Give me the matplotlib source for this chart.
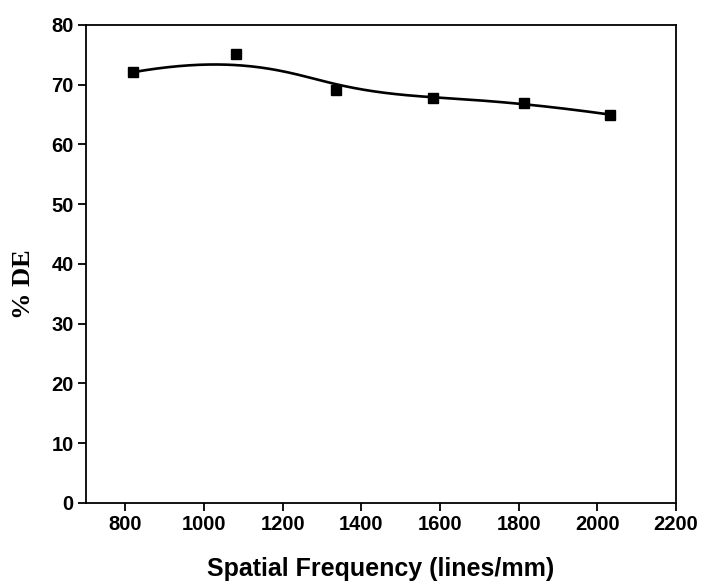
import numpy as np
import matplotlib
matplotlib.use('Agg')
import matplotlib.pyplot as plt

# data
freq = [820, 1081, 1336, 1581, 1813, 2033]      # lines/mm
de = [72.1, 75.1, 69.2, 67.8, 67.0, 65.0]       # % DE

xticks = [800, 1000, 1200, 1400, 1600, 1800, 2000, 2200]
yticks = [0, 10, 20, 30, 40, 50, 60, 70, 80]


def bspline(px, py, n=300, k=3):
    # clamped uniform B-spline using the data points as control points
    m = len(px)
    knots = np.concatenate([np.zeros(k), np.arange(m - k + 1), np.full(k, m - k)]).astype(float)
    t = np.linspace(0, m - k, n)
    t[-1] -= 1e-9

    def basis(i, p, t):
        if p == 0:
            return ((knots[i] <= t) & (t < knots[i + 1])).astype(float)
        a = 0.0
        b = 0.0
        if knots[i + p] != knots[i]:
            a = (t - knots[i]) / (knots[i + p] - knots[i]) * basis(i, p - 1, t)
        if knots[i + p + 1] != knots[i + 1]:
            b = (knots[i + p + 1] - t) / (knots[i + p + 1] - knots[i + 1]) * basis(i + 1, p - 1, t)
        return a + b

    B = np.array([basis(i, k, t) for i in range(m)])
    return B.T @ np.asarray(px, float), B.T @ np.asarray(py, float)


fig = plt.figure(figsize=(7.01, 5.81), dpi=100)
ax = fig.add_axes([0.1227, 0.1343, 0.8416, 0.8227])

sx, sy = bspline(freq, de)
ax.plot(sx, sy, '-', color='k', lw=1.9)
ax.plot(freq, de, 's', color='k', ms=6.5)

ax.set_xlim(700, 2200)
ax.set_ylim(0, 80)
ax.set_xticks(xticks)
ax.set_yticks(yticks)

tickfont = dict(family='Liberation Sans', weight='bold', size=14.5)
ax.set_xticklabels([str(v) for v in xticks], **tickfont)
ax.set_yticklabels([str(v) for v in yticks], **tickfont)
ax.tick_params(axis='both', direction='out', length=6, width=1.3, pad=3,
               top=False, right=False)

for s in ax.spines.values():
    s.set_linewidth(1.3)

ax.set_xlabel('Spatial Frequency (lines/mm)', family='Liberation Sans',
              weight='bold', size=18, labelpad=16)
fig.text(24 / 701, 1 - 284 / 581, '% DE', family='Liberation Serif', weight='bold',
         size=19, rotation=90, ha='center', va='center')

fig.savefig('out.png', dpi=100)
